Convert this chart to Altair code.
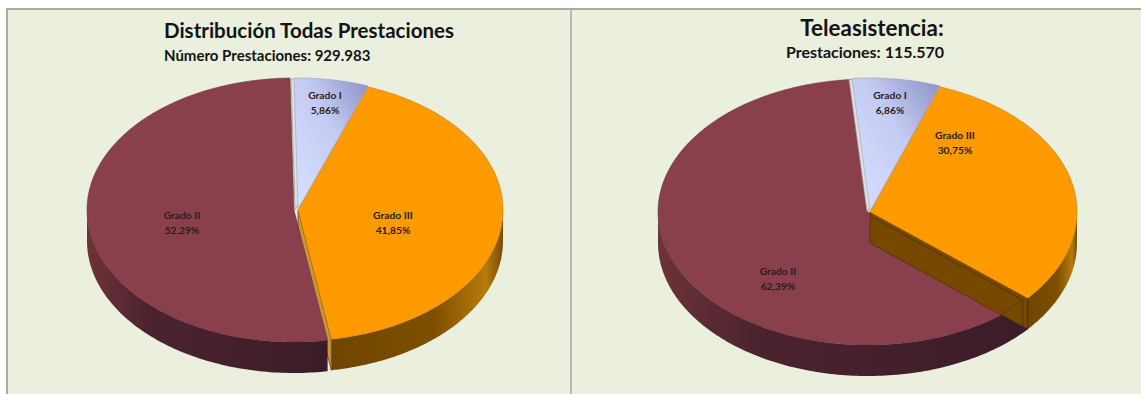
import math
import altair as alt
import pandas as pd

# Shares per care grade, in percent
grades = ["Grado I", "Grado III", "Grado II"]
share_all = [5.86, 41.85, 52.29]
share_tele = [6.86, 30.75, 62.39]

titles = ["Distribución Todas Prestaciones", "Teleasistencia:"]
subtitles = ["Número Prestaciones: 929.983", "Prestaciones: 115.570"]

W, H = 1141, 394
BG = "#EAEFDE"
DEPTH = 31

fills = {"Grado I": "#CDD5FA", "Grado III": "#FF9A00", "Grado II": "#8A404C"}
gradient_I = {
    "gradient": "linear", "x1": 0.1, "y1": 0.95, "x2": 1, "y2": 0.05,
    "stops": [{"offset": 0, "color": "#D6DEFF"}, {"offset": 0.55, "color": "#C4CBF2"},
              {"offset": 1, "color": "#8F94C6"}],
}
wall_orange = {
    "gradient": "linear", "x1": 0, "y1": 0, "x2": 1, "y2": 0,
    "stops": [{"offset": 0, "color": "#6F4500"}, {"offset": 0.6, "color": "#7E4F00"},
              {"offset": 0.9, "color": "#B87A0C"}, {"offset": 1, "color": "#7A4C00"}],
}
wall_maroon = {
    "gradient": "linear", "x1": 0, "y1": 0, "x2": 1, "y2": 0,
    "stops": [{"offset": 0, "color": "#6E3338"}, {"offset": 0.25, "color": "#4C2430"},
              {"offset": 1, "color": "#3A1C28"}],
}

# Per-pie layout: wedge centres, radii, opening angle and text anchors
pies = [
    dict(shares=share_all, start=-1.1, rx=205, ry=131,
         centers={"Grado I": (298, 209), "Grado III": (298, 210), "Grado II": (294, 210)},
         rx_back=207, ry_back=132,
         cut_color="#C8963C",
         labels={"Grado I": (325, 95.5), "Grado III": (393, 215.5), "Grado II": (182, 216)},
         title=(164, 32, "left", 20.5), subtitle=(164, 56, "left", 15)),
    dict(shares=share_tele, start=-5, rx=207, ry=133,
         centers={"Grado I": (870, 211), "Grado III": (870, 212), "Grado II": (868, 212)},
         rx_back=210, ry_back=133,
         cut_color="#774800",
         labels={"Grado I": (890, 95.5), "Grado III": (955, 135.5), "Grado II": (778, 272)},
         title=(872, 29, "center", 22.4), subtitle=(865, 53, "center", 16)),
]


def rim(cx, cy, rx, ry, a0, a1, dy=0):
    steps = max(2, int(abs(a1 - a0)) + 1)
    out = []
    for k in range(steps + 1):
        a = math.radians(a0 + (a1 - a0) * k / steps)
        out.append((cx + rx * math.sin(a), cy - ry * math.cos(a) + dy))
    return out


xs = alt.X("x:Q", scale=alt.Scale(domain=[0, W], range=[0, W]), axis=None)
ys = alt.Y("y:Q", scale=alt.Scale(domain=[0, H], range=[0, H]), axis=None)


def polyline(points, color, width=0.6, opacity=1.0):
    rows = pd.DataFrame([{"x": p[0], "y": p[1], "i": n} for n, p in enumerate(points)])
    return alt.Chart(rows).mark_line(color=color, strokeWidth=width, opacity=opacity).encode(x=xs, y=ys, order="i:Q")


def polygon(points, fill, stroke=None, width=0.6):
    closed = list(points) + [points[0]]
    rows = pd.DataFrame([{"x": p[0], "y": p[1], "i": n} for n, p in enumerate(closed)])
    return alt.Chart(rows).mark_line(
        fill=fill, stroke=stroke or "transparent", strokeWidth=width, interpolate="linear"
    ).encode(x=xs, y=ys, order="i:Q")


def wedge(cx, cy, rx, ry, a0, a1, fill, stroke=None, width=0.6):
    return polygon([(cx, cy)] + rim(cx, cy, rx, ry, a0, a1), fill, stroke, width)


def wall(cx, cy, rx, ry, a0, a1, fill):
    lo, hi = max(a0, 90), min(a1, 270)
    top = rim(cx, cy, rx, ry, lo, hi)
    bottom = rim(cx, cy, rx, ry, lo, hi, DEPTH)
    return polygon(top + bottom[::-1], fill)


def cut_face(cx, cy, rx, ry, a, fill, stroke):
    tip = rim(cx, cy, rx, ry, a, a)[0]
    return polygon([(cx, cy), tip, (tip[0], tip[1] + DEPTH), (cx, cy + DEPTH)], fill, stroke, 0.7)


layers = [
    alt.Chart(pd.DataFrame({"a": [0]})).mark_rect(fill=BG, stroke="#A9ABA4", strokeWidth=2).encode(
        x=alt.value(7), x2=alt.value(W + 4), y=alt.value(9), y2=alt.value(H + 4)),
    alt.Chart(pd.DataFrame({"a": [0]})).mark_rule(color="#A9ABA4", strokeWidth=1.5).encode(
        x=alt.value(571), y=alt.value(9), y2=alt.value(H)),
]

label_rows = []
for n, pie in enumerate(pies):
    spans = {}
    a = pie["start"]
    for grade, share in zip(grades, pie["shares"]):
        spans[grade] = (a, a + share * 3.6)
        a += share * 3.6

    cI, cIII, cII = (pie["centers"][g] for g in grades)
    a0_I, a1_I = spans["Grado I"]
    a0_III, a1_III = spans["Grado III"]
    a0_II, a1_II = spans["Grado II"]
    rx, ry, rxb, ryb = pie["rx"], pie["ry"], pie["rx_back"], pie["ry_back"]

    if n == 0:
        # The orange wedge's cut edge sits behind the maroon wedge
        layers += [
            wall(*cIII, rx, ry, a0_III, a1_III, wall_orange),
            cut_face(*cIII, rx, ry, a1_III, pie["cut_color"], "#5A3A10"),
            wedge(*cIII, rx, ry, a0_III, a1_III, fills["Grado III"], "#B87400", 0.5),
            wall(*cII, rxb, ryb, a0_II, a1_II, wall_maroon),
            wedge(*cII, rxb, ryb, a0_II, a1_II, fills["Grado II"], "#5E2A34", 0.5),
        ]
    else:
        # The orange wedge stands in front, showing its cut face over the maroon top
        tip = rim(*cIII, rx, ry, a1_III, a1_III)[0]
        inner_x, inner_y = tip[0] - 5, tip[1] + 1.5
        layers += [
            wall(*cII, rxb, ryb, a0_II, a1_II, wall_maroon),
            wedge(*cII, rxb, ryb, a0_II, a1_II, fills["Grado II"], "#5E2A34", 0.5),
            wall(*cIII, rx, ry, a0_III, a1_III, wall_orange),
            cut_face(*cIII, rx, ry, a1_III, pie["cut_color"], "#4A2E00"),
            # Edges of the maroon slice showing through the cut face
            polyline([(cIII[0], cIII[1] + 4), (inner_x, inner_y),
                      (inner_x, inner_y + DEPTH - 1)], "#4A2E00", 0.7),
            polyline([(inner_x - 23, inner_y + 16), (inner_x, inner_y)], "#5A3500", 0.7),
            polyline([(tip[0], tip[1]), (tip[0], tip[1] + DEPTH)], "#4A2E00", 0.7),
            wedge(*cIII, rx, ry, a0_III, a1_III, fills["Grado III"], "#B87400", 0.5),
        ]

    layers += [
        wedge(cI[0] - 3, cI[1] + 1, rx, ry, a0_I, a1_I, "#DDE3DA", "#8A8F88", 0.6),
        wedge(*cI, rx, ry, a0_I, a1_I, gradient_I, "#8F94C6", 0.5),
    ]

    for grade, share in zip(grades, pie["shares"]):
        lx, ly = pie["labels"][grade]
        label_rows.append({"x": lx, "y": ly, "t": grade})
        label_rows.append({"x": lx, "y": ly + 15, "t": f"{share:.2f}".replace(".", ",") + "%"})

    for (tx, ty, al, size), text in ((pie["title"], titles[n]), (pie["subtitle"], subtitles[n])):
        layers.append(
            alt.Chart(pd.DataFrame({"x": [tx], "y": [ty], "t": [text]}))
            .mark_text(font="Lato", fontWeight="bold", fontSize=size, align=al, baseline="middle", color="#141414")
            .encode(x=xs, y=ys, text="t:N")
        )

layers.append(
    alt.Chart(pd.DataFrame(label_rows))
    .mark_text(font="Lato", fontWeight="bold", fontSize=10.3, align="center", baseline="middle", color="#2A1C18")
    .encode(x=xs, y=ys, text="t:N")
)

chart = (
    alt.layer(*layers)
    .properties(width=W, height=H, padding=0, background="white",
                autosize=alt.AutoSizeParams(type="none"))
    .configure_view(stroke=None)
)

chart.save("out.html", embed_options={"renderer": "svg", "actions": False})
